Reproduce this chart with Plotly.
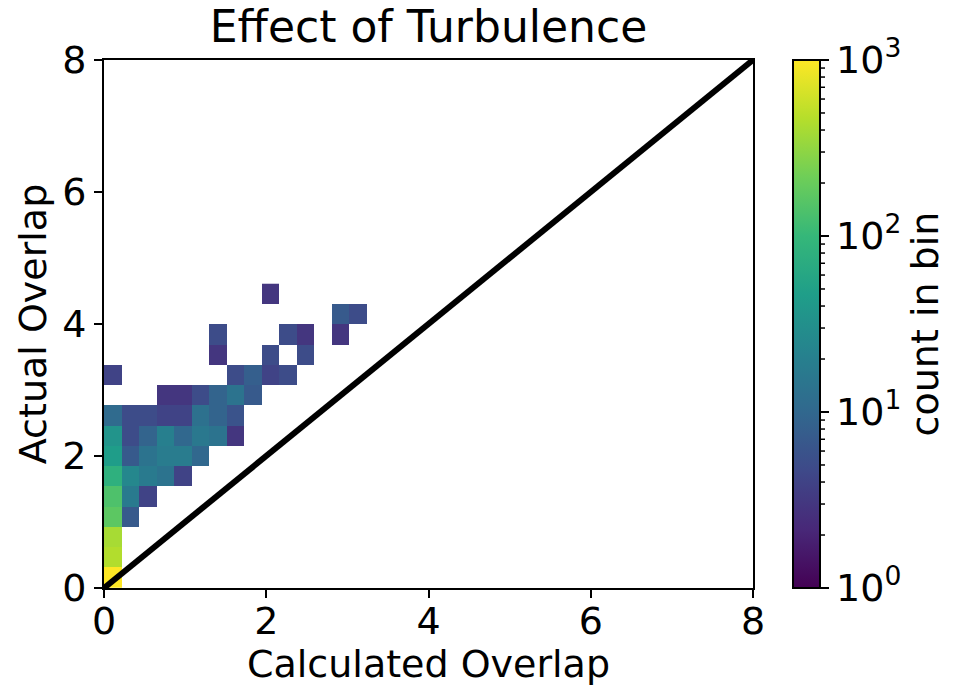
import numpy as np
import plotly.graph_objects as go

# 2D histogram of actual vs calculated overlap (15 x 15 bins)
x_max = 3.24   # upper edge of calculated-overlap bins
y_max = 4.61   # upper edge of actual-overlap bins
n_bins = 15

# counts per bin, rows from the lowest actual-overlap bin upward; None = empty bin
counts = [
    [1000, None, None, None, None, None, None, None, None, None, None, None, None, None, None],
    [450, None, None, None, None, None, None, None, None, None, None, None, None, None, None],
    [400, None, None, None, None, None, None, None, None, None, None, None, None, None, None],
    [170, 7, None, None, None, None, None, None, None, None, None, None, None, None, None],
    [140, 17, 4, None, None, None, None, None, None, None, None, None, None, None, None],
    [80, 25, 17, 14, 4, None, None, None, None, None, None, None, None, None, None],
    [45, 7, 14, 18, 18, 10, None, None, None, None, None, None, None, None, None],
    [35, 5, 9, 20, 10, 16, 14, 3, None, None, None, None, None, None, None],
    [11, 5, 5, 4, 4, 13, 9, 6, None, None, None, None, None, None, None],
    [None, None, None, 3, 3, 5, 9, 14, 7, None, None, None, None, None, None],
    [4, None, None, None, None, None, None, 5, 8, 4, 5, None, None, None, None],
    [None, None, None, None, None, None, 3, None, None, 5, None, 5, None, None, None],
    [None, None, None, None, None, None, 5, None, None, None, 5, 3, None, 3, None],
    [None, None, None, None, None, None, None, None, None, None, None, None, None, 7, 5],
    [None, None, None, None, None, None, None, None, None, 3, None, None, None, None, None],
]

tick_vals = [0, 2, 4, 6, 8]
cbar_exponents = [0, 1, 2, 3]

x_edges = np.linspace(0, x_max, n_bins + 1)
y_edges = np.linspace(0, y_max, n_bins + 1)
z_log = np.array([[np.nan if c is None else np.log10(c) for c in row] for row in counts])

FONT = "DejaVu Sans"
FS = 38

W, H = 963, 686
ML, MR, MT, MB = 104, 210, 60, 98
plot_w = W - ML - MR

cbar_x = (793 - ML) / plot_w
cbar_thick = 27

fig = go.Figure()

fig.add_trace(go.Heatmap(
    x=x_edges,
    y=y_edges,
    z=z_log,
    colorscale="Viridis",
    zmin=0,
    zmax=3,
    hoverongaps=False,
    colorbar=dict(
        x=cbar_x,
        xanchor="left",
        y=0.5,
        yanchor="middle",
        len=1.0,
        lenmode="fraction",
        thickness=cbar_thick,
        ypad=0,
        xpad=0,
        outlinecolor="black",
        outlinewidth=2,
        ticks="outside",
        ticklen=8,
        tickwidth=2,
        tickcolor="black",
        tickvals=cbar_exponents,
        ticktext=[f"10<sup>{e}</sup>" for e in cbar_exponents],
        tickfont=dict(family=FONT, size=FS, color="black"),
        title=dict(text="count in bin", side="right",
                   font=dict(family=FONT, size=FS, color="black")),
    ),
))

# one-to-one reference line
fig.add_trace(go.Scatter(
    x=[0, 8], y=[0, 8],
    mode="lines",
    line=dict(color="black", width=6),
    showlegend=False,
    hoverinfo="skip",
))

# log minor ticks on the colour bar
bar_right = cbar_x + cbar_thick / plot_w
minor_shapes = []
for e in range(3):
    for k in range(2, 10):
        yv = (e + np.log10(k)) / 3
        minor_shapes.append(dict(
            type="line", xref="paper", yref="paper",
            x0=bar_right, x1=bar_right + 5 / plot_w, y0=yv, y1=yv,
            line=dict(color="black", width=1.5),
        ))

fig.update_layout(
    width=W,
    height=H,
    margin=dict(l=ML, r=MR, t=MT, b=MB, autoexpand=False),
    paper_bgcolor="white",
    plot_bgcolor="white",
    font=dict(family=FONT, size=FS, color="black"),
    title=dict(text="Effect of Turbulence", x=0.5, xref="paper",
               y=1 - 27 / H, yanchor="middle",
               font=dict(family=FONT, size=44, color="black")),
    shapes=minor_shapes,
    showlegend=False,
)

axis_common = dict(
    range=[0, 8],
    tickvals=tick_vals,
    ticks="outside",
    ticklen=8,
    tickwidth=2,
    tickcolor="black",
    showline=True,
    linecolor="black",
    linewidth=2,
    mirror=True,
    showgrid=False,
    zeroline=False,
    automargin=False,
    tickfont=dict(family=FONT, size=FS, color="black"),
)

fig.update_xaxes(**axis_common, ticklabelstandoff=-10,
                 title=dict(text="Calculated Overlap", standoff=2,
                            font=dict(family=FONT, size=FS)))
fig.update_yaxes(**axis_common,
                 title=dict(text="Actual Overlap", standoff=4,
                            font=dict(family=FONT, size=FS)))

fig.write_html("out.html")
